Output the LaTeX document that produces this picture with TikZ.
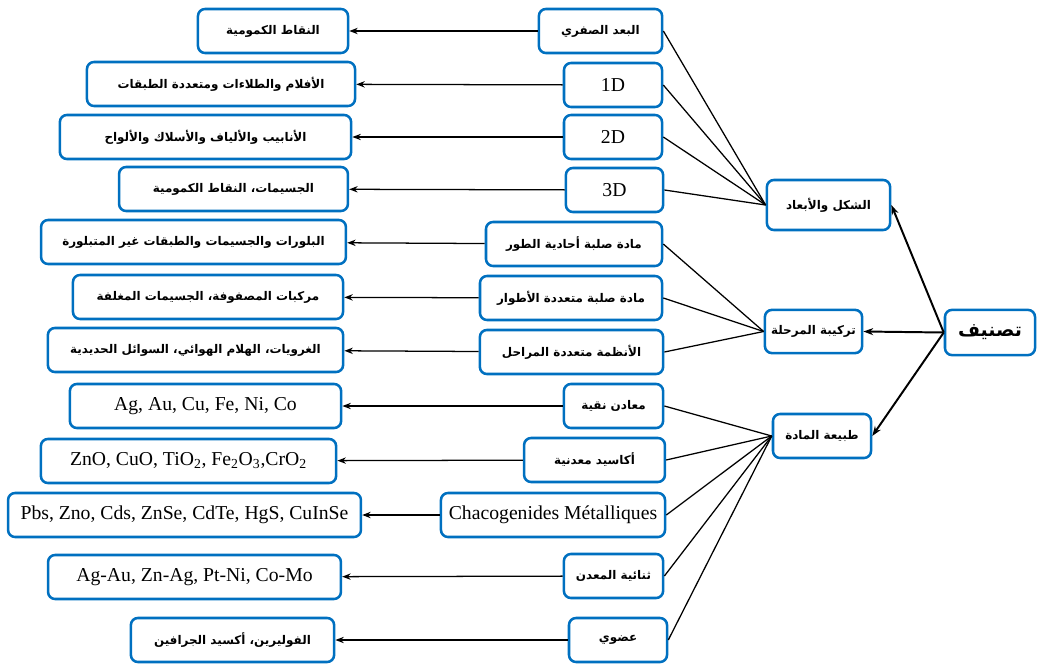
\documentclass[tikz,border=0pt]{standalone}
\usepackage{fontspec}
\setmainfont{Liberation Serif}
\newfontfamily\arabicfont[Script=Arabic]{DejaVu Sans}
\TeXXeTstate=1
\usetikzlibrary{arrows.meta}
\definecolor{boxblue}{RGB}{0,112,192}
\newcommand{\artxt}[1]{{\arabicfont\fontsize{8.5}{10}\selectfont\bfseries\beginR #1\endR}}
\newcommand{\ltxt}[1]{{\fontsize{14}{16}\selectfont #1}}

\begin{document}
\begin{tikzpicture}
    [x=0.025cm,y=-0.025cm,inner sep=0pt,
     box/.style={draw=boxblue,line width=1.8pt,rounded corners=5pt,
       minimum height=1.1cm,fill=white},
     link/.style={line width=0.9pt},
     tip/.style={line width=0.9pt,-{Stealth[length=6pt,width=4.5pt]}},
     bigtip/.style={line width=1.4pt,-{Stealth[length=7pt,width=5pt]}}]

    \useasboundingbox (0, 0) rectangle (1037, 663);

    % leftmost examples:
    \node (ex1) at (273, 31) [box,minimum width=3.75cm] {\artxt{النقاط الكمومية}};
    \node (ex2) at (221, 84) [box,minimum width=6.7cm] {\artxt{الأفلام والطلاءات ومتعددة الطبقات}};
    \node (ex3) at (205.5, 137) [box,minimum width=7.28cm] {\artxt{الأنابيب والألياف والأسلاك والألواح}};
    \node (ex4) at (233.5, 189) [box,minimum width=5.72cm] {\artxt{الجسيمات، النقاط الكمومية}};
    \node (ex5) at (193.5, 242) [box,minimum width=7.62cm] {\artxt{البلورات والجسيمات والطبقات غير المتبلورة}};
    \node (ex6) at (208, 297) [box,minimum width=6.75cm] {\artxt{مركبات المصفوفة، الجسيمات المغلفة}};
    \node (ex7) at (195.5, 350) [box,minimum width=7.38cm] {\artxt{الغرويات، الهلام الهوائي، السوائل الحديدية}};
    \node (ex8) at (205.5, 406) [box,minimum width=6.78cm] {\ltxt{Ag, Au, Cu, Fe, Ni, Co}};
    \node (ex9) at (188.5, 461) [box,minimum width=7.38cm] {\ltxt{ZnO, CuO, TiO\textsubscript{2}, Fe\textsubscript{2}O\textsubscript{3},CrO\textsubscript{2}}};
    \node (ex10) at (184.5, 515) [box,minimum width=8.82cm] {\ltxt{Pbs, Zno, Cds, ZnSe, CdTe, HgS, CuInSe}};
    \node (ex11) at (194.5, 577) [box,minimum width=7.32cm] {\ltxt{Ag-Au, Zn-Ag, Pt-Ni, Co-Mo}};
    \node (ex12) at (232.5, 640) [box,minimum width=5.08cm] {\artxt{الفوليرين، أكسيد الجرافين}};

    % middle subclasses:
    \node (sub1) at (600.5, 31) [box,minimum width=3.08cm] {\artxt{البعد الصفري}};
    \node (sub2) at (613, 85) [box,minimum width=2.45cm] {\ltxt{1D}};
    \node (sub3) at (613, 137) [box,minimum width=2.45cm] {\ltxt{2D}};
    \node (sub4) at (614.5, 190) [box,minimum width=2.43cm] {\ltxt{3D}};
    \node (sub5) at (574, 244) [box,minimum width=4.4cm] {\artxt{مادة صلبة أحادية الطور}};
    \node (sub6) at (571, 298) [box,minimum width=4.55cm] {\artxt{مادة صلبة متعددة الأطوار}};
    \node (sub7) at (571.5, 352) [box,minimum width=4.58cm] {\artxt{الأنظمة متعددة المراحل}};
    \node (sub8) at (613.5, 406) [box,minimum width=2.48cm] {\artxt{معادن نقية}};
    \node (sub9) at (594.5, 460) [box,minimum width=3.52cm] {\artxt{أكاسيد معدنية}};
    \node (sub10) at (553, 515) [box,minimum width=5.6cm] {\ltxt{Chacogenides Métalliques}};
    \node (sub11) at (613.5, 576) [box,minimum width=2.48cm] {\artxt{ثنائية المعدن}};
    \node (sub12) at (618, 640) [box,minimum width=2.45cm] {\artxt{عضوي}};

    % classes:
    \node (cat1) at (828.5, 205) [box,minimum width=3.08cm,minimum height=1.25cm] {\artxt{الشكل والأبعاد}};
    \node (cat2) at (813.5, 331.5) [box,minimum width=2.43cm,minimum height=1.08cm] {\artxt{تركيبة المرحلة}};
    \node (cat3) at (822, 436) [box,minimum width=2.45cm] {\artxt{طبيعة المادة}};

    % root:
    \node (cls) at (990, 332.5) [box,minimum width=2.25cm,minimum height=1.13cm]
      {{\arabicfont\fontsize{13.5}{15}\selectfont\bfseries\beginR تصنيف\endR}};

    % connect nodes:

    \draw [bigtip] (cls.west) to (cat1.east);
    \draw [bigtip] (cls.west) to (cat2.east);
    \draw [bigtip] (cls.west) to (cat3.east);

    \draw [link] (sub1.east) to (cat1.west);
    \draw [link] (sub2.east) to (cat1.west);
    \draw [link] (sub3.east) to (cat1.west);
    \draw [link] (sub4.east) to (cat1.west);
    \draw [link] (sub5.east) to (cat2.west);
    \draw [link] (sub6.east) to (cat2.west);
    \draw [link] (sub7.east) to (cat2.west);
    \draw [link] (sub8.east) to (cat3.west);
    \draw [link] (sub9.east) to (cat3.west);
    \draw [link] (sub10.east) to (cat3.west);
    \draw [link] (sub11.east) to (cat3.west);
    \draw [link] (sub12.east) to (cat3.west);

    \draw [tip] (sub1) to (ex1);
    \draw [tip] (sub2) to (ex2);
    \draw [tip] (sub3) to (ex3);
    \draw [tip] (sub4) to (ex4);
    \draw [tip] (sub5) to (ex5);
    \draw [tip] (sub6) to (ex6);
    \draw [tip] (sub7) to (ex7);
    \draw [tip] (sub8) to (ex8);
    \draw [tip] (sub9) to (ex9);
    \draw [tip] (sub10) to (ex10);
    \draw [tip] (sub11) to (ex11);
    \draw [tip] (sub12) to (ex12);

  \end{tikzpicture}
\end{document}
